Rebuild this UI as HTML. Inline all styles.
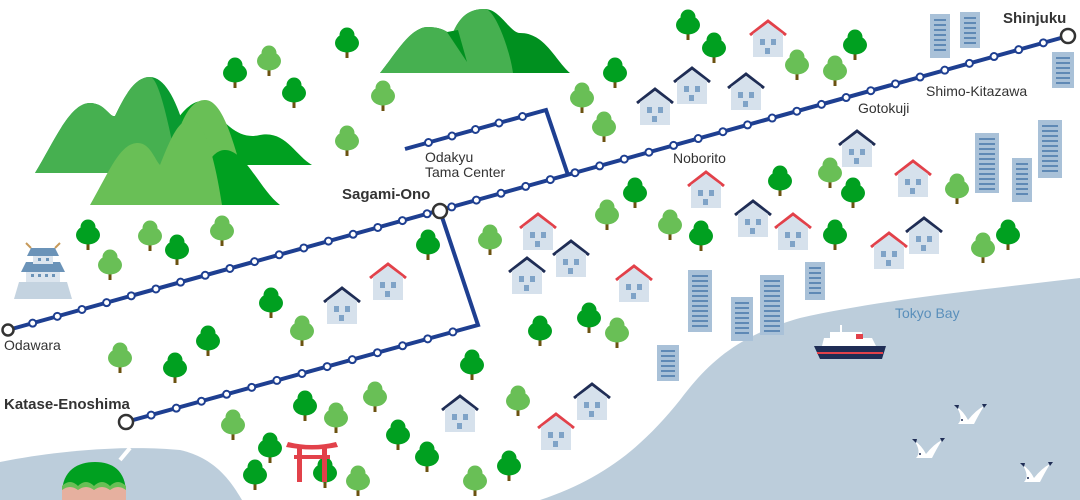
<!DOCTYPE html>
<html><head><meta charset="utf-8"><style>
html,body{margin:0;padding:0;background:#fff;width:1080px;height:500px;overflow:hidden}
svg text{font-family:"Liberation Sans",sans-serif}
</style></head><body>
<svg id="s" width="1080" height="500" viewBox="0 0 1080 500" xmlns="http://www.w3.org/2000/svg">
<defs>
<g id="tree"><rect x="-1.5" y="8" width="3" height="10" fill="#6b5210"/><circle cx="0" cy="-5" r="7.5" fill="#00a020"/><ellipse cx="0" cy="3" rx="12" ry="9.5" fill="#00a020"/></g>
<g id="treel"><rect x="-1.5" y="8" width="3" height="10" fill="#6b5210"/><circle cx="0" cy="-5" r="7.5" fill="#69bf56"/><ellipse cx="0" cy="3" rx="12" ry="9.5" fill="#69bf56"/></g>
<g id="hn"><path d="M-18,0 L0,-14 L18,0" fill="none" stroke="#1f2d55" stroke-width="3"/><path d="M-15,-1 L0,-12 L15,-1 V22 H-15Z" fill="#d6e1ec"/><rect x="-8" y="4" width="5" height="6" fill="#7fa3c7"/><rect x="3" y="4" width="5" height="6" fill="#7fa3c7"/><rect x="-3" y="13" width="5" height="6" fill="#7fa3c7"/></g>
<g id="hr"><path d="M-18,0 L0,-14 L18,0" fill="none" stroke="#e2414a" stroke-width="3"/><path d="M-15,-1 L0,-12 L15,-1 V22 H-15Z" fill="#d6e1ec"/><rect x="-8" y="4" width="5" height="6" fill="#7fa3c7"/><rect x="3" y="4" width="5" height="6" fill="#7fa3c7"/><rect x="-3" y="13" width="5" height="6" fill="#7fa3c7"/></g>
<g id="bird"><path d="M-14,-8 Q-6,-2 -2,6 Q6,-4 14,-8 Q8,2 4,10 L-12,10 Q-6,4 -14,-8Z" fill="#fff"/><path d="M-16,-9 L-11,-9 L-12,-5Z M12,-10 L17,-10 L14,-6Z" fill="#1f2d55"/><circle cx="-8" cy="6" r="1" fill="#1f2d55"/></g>
</defs>
<!-- sea -->
<path d="M540,500 C600,480 640,450 680,400 C710,360 740,335 800,318 C880,300 980,290 1080,278 V500Z" fill="#bccddb"/>
<path d="M0,462 C60,450 130,445 180,450 C215,458 230,480 242,500 H0Z" fill="#bccddb"/>
<!-- mountains left -->
<path d="M170,130 C185,105 200,95 210,105 C225,125 240,140 260,135 C285,130 295,155 312,165 L180,165Z" fill="#00a020"/>
<path d="M35,173 C55,140 70,103 90,103 C105,103 110,118 115,116 C125,95 135,77 150,77 C170,77 185,120 195,173Z" fill="#0a9a30"/>
<path d="M35,173 C55,140 70,103 90,103 C105,103 110,118 115,116 C125,95 135,77 150,77 C160,77 172,140 178,173Z" fill="#46b050"/>
<path d="M170,160 C180,120 190,100 205,100 C220,100 230,130 240,165 L180,175Z" fill="#69bf56"/>
<path d="M190,205 C205,160 215,150 225,150 C245,150 260,190 280,205Z" fill="#00a020"/>
<path d="M90,205 C110,170 120,143 138,143 C150,143 155,160 160,165 C170,140 178,120 190,120 C205,120 215,160 222,205Z" fill="#69bf56"/>
<!-- mountains top -->
<path d="M380,73 C395,55 410,27 428,27 C445,27 450,35 452,35 C460,15 470,9 485,9 C500,9 510,33 520,33 C545,33 555,60 570,73Z" fill="#00901f"/>
<path d="M380,73 C395,55 410,27 428,27 C445,27 450,35 452,35 C460,15 470,9 485,9 C495,9 510,50 513,73Z" fill="#46b050"/>
<path d="M447,32 L467,62 L458,30Z" fill="#00901f"/>
<g id="trees"></g>
<g id="houses"></g>
<g id="bld" fill="#a9c1d8"></g>
<!-- castle -->
<g transform="translate(43,270)">
<path d="M-29,29 L-24,12 H24 L29,29Z" fill="#c4d3e0"/>
<rect x="-17" y="-2" width="34" height="14" fill="#dce5ee"/>
<path d="M-22,2 H22 L17,-8 H-17Z" fill="#6b93b8"/>
<rect x="-10" y="-14" width="20" height="8" fill="#dce5ee"/>
<path d="M-16,-14 H16 L12,-22 H-12Z" fill="#6b93b8"/>
<path d="M-17,-27 L-12,-22 M17,-27 L12,-22" stroke="#c79a5a" stroke-width="2"/>
<rect x="-12" y="4" width="3" height="3" fill="#6b93b8"/><rect x="-5" y="4" width="3" height="3" fill="#6b93b8"/><rect x="2" y="4" width="3" height="3" fill="#6b93b8"/><rect x="9" y="4" width="3" height="3" fill="#6b93b8"/>
<rect x="-5" y="-12" width="3" height="3" fill="#6b93b8"/><rect x="3" y="-12" width="3" height="3" fill="#6b93b8"/>
</g>
<!-- torii -->
<g transform="translate(312,460)" fill="#e2414a">
<path d="M-24,-18 Q0,-12 24,-18 L26,-13 Q0,-8 -26,-13Z"/>
<rect x="-18" y="-5" width="36" height="4"/>
<rect x="-15" y="-12" width="5" height="34"/><rect x="10" y="-12" width="5" height="34"/>
</g>
<!-- ship -->
<g transform="translate(850,343)">
<path d="M-36,3 H36 L32,16 H-30Z" fill="#1f2d55"/>
<rect x="-33" y="9" width="66" height="2" fill="#e2414a"/>
<path d="M-28,3 L-26,-5 H22 L26,3Z" fill="#fff"/>
<rect x="-20" y="-11" width="32" height="7" fill="#fff"/>
<rect x="-10" y="-18" width="2" height="7" fill="#fff"/>
<rect x="6" y="-9" width="7" height="5" fill="#e2414a"/>
</g>
<use href="#bird" x="970" y="414"/><use href="#bird" x="928" y="448"/><use href="#bird" x="1036" y="472"/>
<!-- island -->
<path d="M120,460 L130,448" stroke="#fff" stroke-width="4"/>
<path d="M62,494 C62,470 78,462 95,462 C112,462 126,470 126,494Z" fill="#00a020"/>
<path d="M62,486 Q70,478 78,486 Q86,478 94,486 Q102,478 110,486 Q118,478 126,486 V492 H62Z" fill="#69bf56"/>
<path d="M62,490 Q70,484 78,490 Q86,484 94,490 Q102,484 110,490 Q118,484 126,490 V500 H62Z" fill="#e6b09f"/>
<!-- lines -->
<g stroke="#1e3f91" stroke-width="4" fill="none">
<line x1="8" y1="330" x2="1068" y2="36"/>
<polyline points="440,211 478,325 126,422"/>
<polyline points="405,149 546,110 568,175"/>
</g>
<g id="dots" fill="#fff" stroke="#1e3f91" stroke-width="2"></g>
<g fill="#fff" stroke="#333" stroke-width="2.5">
<circle cx="8" cy="330" r="5.5"/><circle cx="1068" cy="36" r="7"/><circle cx="440" cy="211" r="7"/><circle cx="126" cy="422" r="7"/>
</g>
<g fill="#333" font-size="14">
<text x="1003" y="23" font-weight="bold" font-size="15">Shinjuku</text>
<text x="926" y="96">Shimo-Kitazawa</text>
<text x="858" y="113">Gotokuji</text>
<text x="673" y="163">Noborito</text>
<text x="425" y="162">Odakyu</text>
<text x="425" y="177">Tama Center</text>
<text x="342" y="199" font-weight="bold" font-size="15">Sagami-Ono</text>
<text x="4" y="350">Odawara</text>
<text x="4" y="409" font-weight="bold" font-size="15">Katase-Enoshima</text>
<text x="895" y="318" fill="#5a8fbb">Tokyo Bay</text>
</g>
</svg>
<script>
var NS="http://www.w3.org/2000/svg";
function el(p,t,a){var e=document.createElementNS(NS,t);for(var k in a)e.setAttribute(k,a[k]);document.getElementById(p).appendChild(e);return e;}
function line(x1,y1,x2,y2,n,skip){for(var i=1;i<n;i++){var t=i/n;var x=x1+(x2-x1)*t,y=y1+(y2-y1)*t;if(skip&&Math.abs(x-440)<8)continue;el("dots","circle",{cx:x,cy:y,r:3.5});}}
line(8,330,1068,36,43,true);
line(126,422,478,325,14);
line(405,149,546,110,6);
var L=[[269,58],[150,233],[110,262],[120,355],[222,228],[302,328],[233,422],[375,394],[336,415],[358,478],[617,330],[604,124],[582,95],[797,62],[835,68],[830,170],[957,186],[983,245],[607,212],[670,222],[490,237],[518,398],[475,478],[347,138],[383,93]];
var T=[[347,40],[235,70],[294,90],[688,22],[714,45],[615,70],[855,42],[635,190],[701,233],[780,178],[853,190],[1008,232],[835,232],[428,242],[88,232],[177,247],[271,300],[208,338],[175,365],[540,328],[589,315],[472,362],[305,403],[270,445],[255,472],[325,470],[398,432],[427,454],[509,463]];
T.forEach(function(p){el("trees","use",{href:"#tree",x:p[0],y:p[1]});});
L.forEach(function(p){el("trees","use",{href:"#treel",x:p[0],y:p[1]});});
var H=[[768,35,"hr"],[692,82,"hn"],[655,103,"hn"],[746,88,"hn"],[857,145,"hn"],[706,186,"hr"],[913,175,"hr"],[753,215,"hn"],[793,228,"hr"],[924,232,"hn"],[889,247,"hr"],[538,228,"hr"],[571,255,"hn"],[527,272,"hn"],[634,280,"hr"],[388,278,"hr"],[342,302,"hn"],[460,410,"hn"],[592,398,"hn"],[556,428,"hr"]];
H.forEach(function(p){el("houses","use",{href:"#"+p[2],x:p[0],y:p[1]});});
var B=[[930,14,20,44],[960,12,20,36],[1052,52,22,36],[1038,120,24,58],[975,133,24,60],[1012,158,20,44],[688,270,24,62],[731,297,22,44],[760,275,24,60],[805,262,20,38],[657,345,22,36]];
B.forEach(function(b){el("bld","rect",{x:b[0],y:b[1],width:b[2],height:b[3]});for(var y=b[1]+5;y<b[1]+b[3]-4;y+=5){el("bld","rect",{x:b[0]+4,y:y,width:b[2]-8,height:2,fill:"#5f89b5"});}});
</script>
</body></html>
